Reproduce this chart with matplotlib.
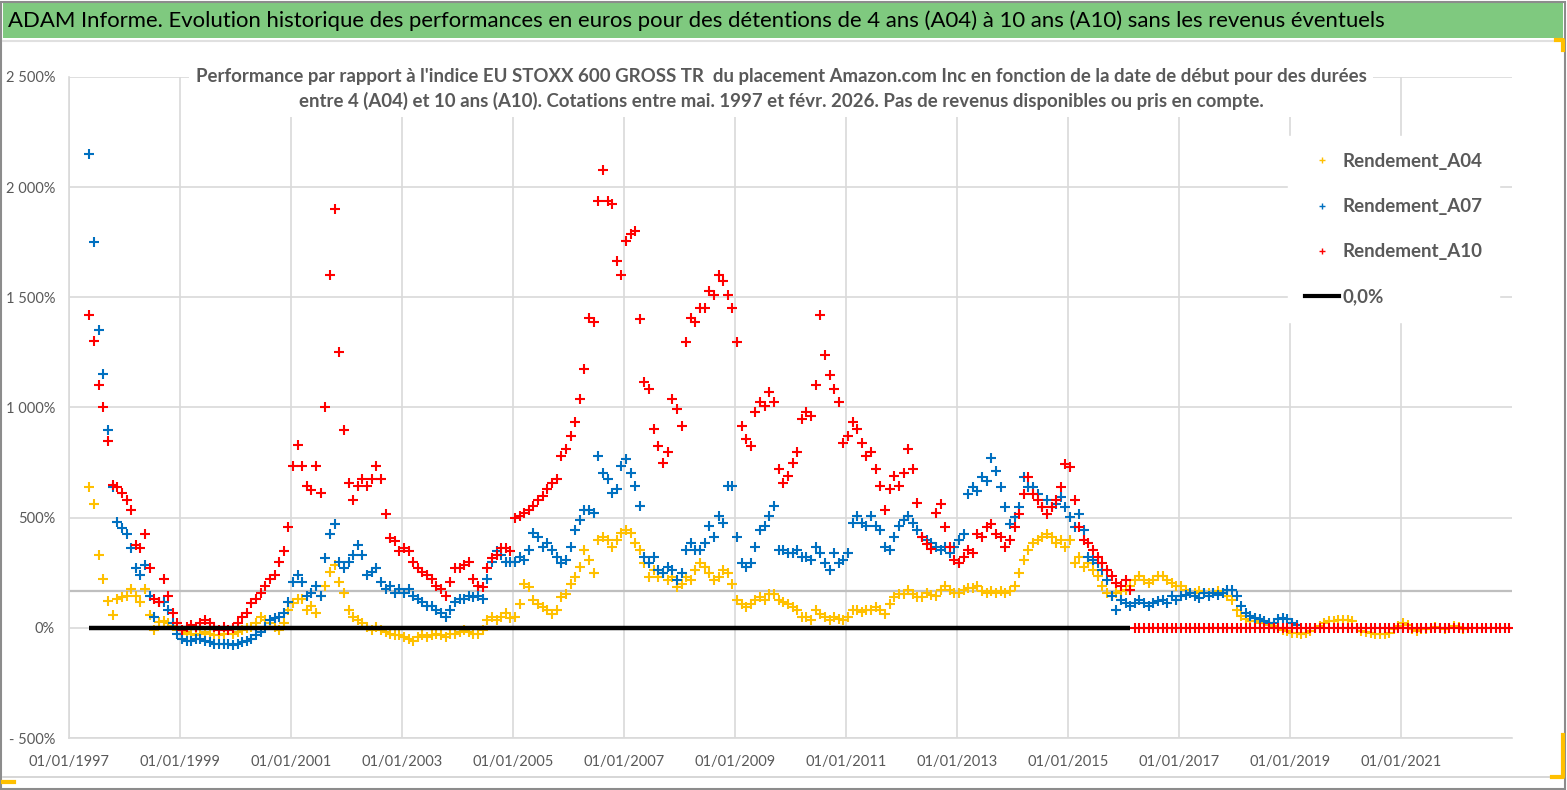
import matplotlib
matplotlib.use("Agg")
import matplotlib.pyplot as plt
from matplotlib.lines import Line2D
from matplotlib.patches import Rectangle
from matplotlib.ticker import FuncFormatter
import pandas as pd

# monthly readings (%), one value per month
# A04: May 1997 -> Feb 2022
a04 = [
    640, 560, 330, 220, 120, 60, 130, 140,
    145, 176, 145, 115, 176, 60, -10, 25, 30, 20, 10, -10,
    -26, -19, -26, -34, -26, -19, -26, -34, -34, -26, -11, -26,
    -19, -11, -3, 5, 20, 51, 36, 20, 5, -11, 20, 83,
    114, 130, 130, 83, 98, 67, 145, 191, 254, 285, 207, 160,
    83, 51, 36, 20, 5, -11, 5, -11, -19, -26, -34, -34,
    -42, -50, -58, -42, -34, -42, -34, -26, -34, -42, -26, -26,
    -19, -11, -19, -26, -26, -11, 36, 51, 36, 51, 67, 44,
    49, 110, 201, 186, 125, 110, 94, 79, 64, 79, 140, 155,
    201, 232, 277, 353, 308, 247, 399, 414, 399, 369, 399, 430,
    445, 430, 384, 353, 293, 232, 262, 232, 247, 216, 232, 186,
    201, 232, 216, 262, 293, 277, 247, 216, 232, 262, 247, 201,
    125, 110, 94, 110, 125, 140, 125, 155, 155, 125, 117, 110,
    94, 79, 49, 49, 34, 79, 64, 49, 34, 49, 41, 34,
    49, 79, 79, 72, 79, 79, 94, 79, 64, 110, 140, 155,
    155, 171, 155, 140, 140, 158, 150, 143, 173, 188, 173, 158,
    158, 173, 180, 180, 188, 165, 158, 165, 158, 165, 158, 165,
    188, 248, 308, 353, 383, 398, 413, 428, 413, 383, 398, 368,
    398, 293, 323, 278, 293, 263, 233, 188, 158, 143, 158, 165,
    173, 188, 218, 233, 218, 203, 218, 233, 233, 218, 203, 188,
    188, 173, 158, 158, 165, 158, 158, 158, 165, 158, 143, 128,
    83, 53, 38, 30, 30, 23, 23, 15, 8, 0, -8, -15,
    -22, -22, -30, -22, -15, 0, 7, 22, 30, 30, 37, 37,
    37, 30, 0, -15, -19, -22, -30, -30, -30, -22, -7, 7,
    22, 15, -7, -15, -7, -4, 0, 4, 0, -7, 0, 7,
    4, -7,
]

# A07: May 1997 -> Feb 2019
a07 = [
    2150, 1750, 1350, 1150, 900, 640, 480, 455,
    425, 363, 270, 240, 285, 145, 50, 115, 115, 83, 20, -26,
    -50, -58, -58, -50, -50, -58, -65, -73, -73, -73, -73, -76,
    -73, -65, -58, -50, -34, -19, 5, 36, 44, 50, 67, 115,
    207, 238, 207, 145, 160, 190, 145, 316, 425, 470, 300, 270,
    300, 330, 378, 330, 238, 254, 270, 207, 176, 190, 160, 176,
    160, 176, 145, 130, 115, 98, 98, 83, 67, 51, 83, 115,
    130, 130, 145, 138, 145, 130, 222, 300, 347, 331, 300, 300,
    300, 323, 308, 353, 430, 414, 369, 384, 353, 323, 293, 308,
    369, 445, 490, 536, 536, 521, 780, 704, 674, 613, 628, 735,
    765, 704, 643, 552, 323, 293, 323, 262, 247, 277, 262, 216,
    247, 353, 384, 353, 353, 384, 460, 414, 506, 475, 643, 643,
    414, 293, 277, 293, 369, 445, 460, 506, 552, 353, 353, 338,
    338, 353, 323, 323, 308, 369, 338, 293, 262, 338, 293, 308,
    338, 475, 506, 475, 460, 506, 460, 445, 369, 353, 414, 460,
    490, 506, 475, 445, 414, 398, 383, 368, 353, 368, 338, 368,
    398, 428, 608, 638, 623, 683, 668, 773, 713, 638, 548, 473,
    503, 548, 683, 638, 638, 608, 548, 578, 548, 563, 593, 548,
    503, 458, 518, 443, 323, 308, 293, 263, 218, 143, 83, 128,
    113, 98, 113, 128, 113, 98, 113, 120, 128, 113, 143, 128,
    143, 150, 158, 143, 135, 158, 143, 158, 150, 158, 173, 173,
    143, 98, 68, 53, 45, 38, 30, 23, 23, 38, 45, 38,
    23, 15,
]

# A10: May 1997 -> Feb 2016, then flat at 0 until Dec 2022
a10 = [
    1420, 1300, 1100, 1000, 850, 650, 640, 610,
    580, 534, 378, 363, 425, 270, 130, 115, 222, 145, 67, 20,
    -11, 5, 12, 5, 20, 36, 20, 5, -11, 5, -11, -3,
    20, 51, 67, 114, 130, 160, 191, 222, 238, 300, 347, 456,
    736, 830, 736, 643, 627, 736, 612, 1000, 1600, 1900, 1250, 900,
    658, 580, 643, 674, 643, 674, 736, 674, 518, 409, 394, 347,
    363, 347, 300, 270, 254, 238, 222, 191, 176, 145, 207, 270,
    270, 285, 300, 222, 191, 184, 270, 316, 331, 363, 363, 347,
    500, 506, 521, 536, 552, 582, 597, 628, 658, 674, 780, 811,
    872, 933, 1040, 1177, 1405, 1390, 1939, 2076, 1939, 1923, 1664, 1603,
    1756, 1786, 1801, 1400, 1116, 1085, 902, 826, 750, 796, 1039, 994,
    917, 1298, 1405, 1390, 1451, 1451, 1527, 1512, 1603, 1573, 1512, 1451,
    1298, 917, 856, 826, 978, 1024, 1009, 1070, 1024, 719, 658, 689,
    750, 796, 948, 978, 963, 1100, 1420, 1237, 1146, 1085, 1024, 841,
    872, 933, 902, 841, 780, 796, 719, 643, 536, 628, 689, 643,
    704, 810, 719, 567, 414, 380, 360, 520, 560, 458, 368, 308,
    293, 323, 353, 338, 428, 413, 458, 473, 428, 413, 368, 398,
    458, 518, 608, 683, 608, 578, 548, 518, 548, 578, 638, 743,
    728, 578, 458, 398, 383, 353, 323, 293, 263, 233, 203, 188,
    218, 173,
]
a10_flat_months = 82      # Mar 2016 -> Dec 2022 at 0 %
grey_level = 168          # the extra grey horizontal line

tick_years = list(range(1997, 2022, 2))
y_ticks = [-500, 0, 500, 1000, 1500, 2000, 2500]

title = ("ADAM Informe. Evolution historique des performances en euros pour des "
         "détentions de 4 ans (A04) à 10 ans (A10) sans les revenus éventuels")
sub_1 = ("Performance par rapport à l'indice EU STOXX 600 GROSS TR  du placement "
         "Amazon.com Inc en fonction de la date de début pour des durées")
sub_2 = ("entre 4 (A04) et 10 ans (A10). Cotations entre mai. 1997 et févr. 2026. "
         "Pas de revenus disponibles ou pris en compte.")

YELLOW = "#FFC000"
BLUE = "#0070C0"
RED = "#FF0000"
GRID = "#D9D9D9"
TXT = "#595959"

plt.rcParams['font.family'] = ['Lato', 'DejaVu Sans']


def monthly(start, n):
    return pd.date_range(start, periods=n, freq="MS") + pd.Timedelta(days=14)


d04 = monthly("1997-05-01", len(a04))
d07 = monthly("1997-05-01", len(a07))
d10 = monthly("1997-05-01", len(a10))
d10_flat = monthly("2016-03-01", a10_flat_months)

W, H = 1567, 790
fig = plt.figure(figsize=(W / 100, H / 100), dpi=100)
fig.patch.set_facecolor("white")
renderer = fig.canvas.get_renderer()


def fit_size(text, target_px, weight="normal"):
    # font size (pt) giving the wanted pixel width for this text
    probe = fig.text(0, 0, text, fontsize=10, fontweight=weight)
    w = probe.get_window_extent(renderer).width
    probe.remove()
    return 10 * target_px / w


# green banner
fig.patches.append(Rectangle((3 / W, 1 - 38 / H), 1560 / W, 35 / H,
                             transform=fig.transFigure, facecolor="#7FC97F",
                             edgecolor="none", zorder=0))
fig.text(8 / W, 1 - 21 / H, title, fontsize=fit_size(title, 1375),
         color="black", ha="left", va="center")
fig.add_artist(Line2D([3 / W, 1563 / W], [1 - 41 / H] * 2, color="#E0E0E0",
                      lw=1.5, transform=fig.transFigure))
# chart frame
fig.add_artist(Rectangle((1 / W, 1 / H), (W - 3) / W, (H - 3) / H,
                         transform=fig.transFigure, fill=False,
                         edgecolor="#8C8C8C", lw=1.5))
fig.add_artist(Line2D([3 / W, 1563 / W], [1 - 777 / H] * 2, color="#D0D0D0",
                      lw=1.2, transform=fig.transFigure))

ax = fig.add_axes([69 / W, 1 - 738 / H, (1512 - 69) / W, (738 - 77) / H])
ax.set_facecolor("white")

ax.axhline(grey_level, color="#BFBFBF", lw=1.6, zorder=1)

mk = dict(marker="+", linestyle="none", markersize=6.5, markeredgewidth=1.5)
ax.plot(d04, a04, color=YELLOW, zorder=3, **mk)
ax.plot(d07, a07, color=BLUE, zorder=4, **mk)
ax.plot(d10, a10, color=RED, zorder=5, **mk)
ax.plot(d10_flat, [0] * a10_flat_months, color=RED, zorder=5, **mk)
ax.plot(d10, [0] * len(d10), color="black", lw=3.2, zorder=6,
        solid_capstyle="butt")

ax.set_xlim(pd.Timestamp("1997-01-01"), pd.Timestamp("2023-01-01"))
ax.set_ylim(-500, 2500)
ax.set_yticks(y_ticks)
ax.set_xticks([pd.Timestamp(f"{y}-01-01") for y in tick_years])
ax.set_xticklabels([f"01/01/{y}" for y in tick_years])


def pct(v, _):
    s = f"{abs(v):,.0f}".replace(",", " ") + "%"
    return "- " + s if v < 0 else s


ax.yaxis.set_major_formatter(FuncFormatter(pct))
ax.grid(True, color=GRID, lw=1.2, zorder=0)
ax.set_axisbelow(True)
ax.tick_params(length=0, colors=TXT)
ax.tick_params(axis="x", pad=12, labelsize=10.5)
ax.tick_params(axis="y", pad=10, labelsize=10.5)
for side in ("top", "right"):
    ax.spines[side].set_visible(False)
for side in ("left", "bottom"):
    ax.spines[side].set_color(GRID)
    ax.spines[side].set_linewidth(1.2)

# subtitle box hides the grid behind it
sub_size = fit_size(sub_1, 1170, "bold")
fig.text(781 / W, 1 - 89 / H, sub_1 + "\n" + sub_2, fontsize=sub_size,
         fontweight="bold", color=TXT, ha="center", va="center",
         linespacing=1.45,
         bbox=dict(facecolor="white", edgecolor="none", pad=5))

handles = [
    Line2D([], [], marker="+", linestyle="none", color=YELLOW, markersize=5, mew=1),
    Line2D([], [], marker="+", linestyle="none", color=BLUE, markersize=5, mew=1),
    Line2D([], [], marker="+", linestyle="none", color=RED, markersize=5, mew=1),
    Line2D([], [], color="black", lw=3),
]
labels = ["Rendement_A04", "Rendement_A07", "Rendement_A10", "0,0%"]
leg_size = fit_size("Rendement_A04", 141, "bold")
leg = ax.legend(handles, labels, loc="upper left",
                bbox_to_anchor=(1288 / W, 1 - 136 / H),
                bbox_transform=fig.transFigure, frameon=True,
                facecolor="white", edgecolor="white", framealpha=1,
                fancybox=False, borderaxespad=0, borderpad=0.9,
                handlelength=1.8, handletextpad=0.2, labelspacing=1.5,
                prop={"size": leg_size, "weight": "bold"})
for t in leg.get_texts():
    t.set_color(TXT)
leg.set_zorder(10)

# small yellow selection marks of the original sheet
for xs, ys in (([1556, 1563, 1563], [40, 40, 50]),
               ([1563, 1563, 1552], [735, 777, 777]),
               ([3, 14], [782, 782])):
    fig.add_artist(Line2D([x / W for x in xs], [1 - y / H for y in ys],
                          color=YELLOW, lw=3, transform=fig.transFigure))

fig.savefig("out.png", dpi=100, facecolor="white")
plt.close(fig)
